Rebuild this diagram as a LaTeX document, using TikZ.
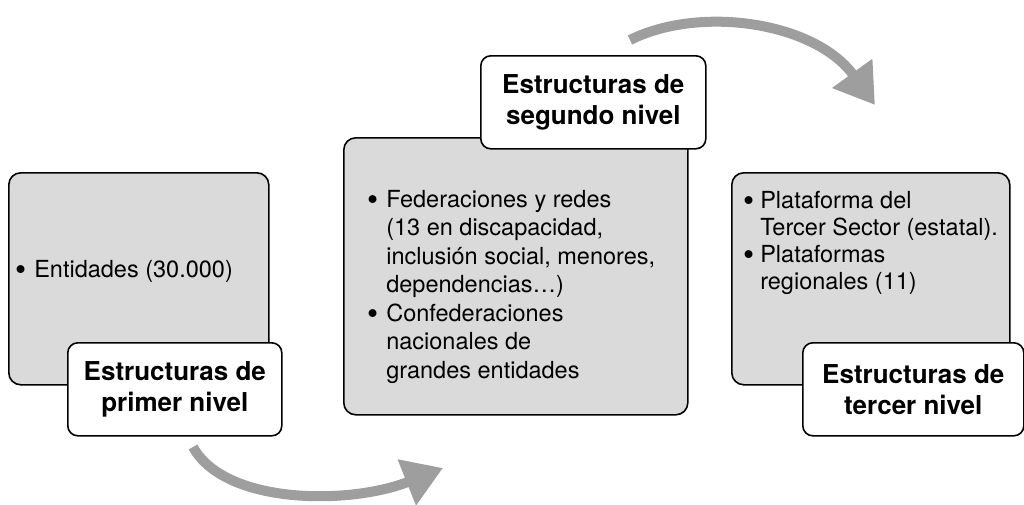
\documentclass[tikz,border=0pt]{standalone}
\usepackage{fontspec}
\setmainfont{TeX Gyre Heros}
\usetikzlibrary{arrows.meta}
\definecolor{boxgray}{RGB}{218,218,218}
\definecolor{arrowgray}{RGB}{158,158,158}
\newcommand{\lbul}{\raisebox{-0.14em}{\scalebox{1.35}{\textbullet}}}

\begin{document}
\begin{tikzpicture}[x=1pt,y=-1pt,
  graybox/.style={draw,line width=1.6pt,fill=boxgray,rounded corners=12pt,anchor=north west,inner sep=0pt},
  levellabel/.style={draw,line width=1.6pt,fill=white,rounded corners=10pt,anchor=north west,inner sep=0pt,
    align=center,font=\fontsize{26}{31}\selectfont\bfseries},
  listtext/.style={anchor=base west,inner sep=0pt,font=\fontsize{23.5}{28.5}\selectfont},
  bigarrow/.style={arrowgray,line width=10pt,-{Triangle[length=39pt,width=47pt]}}]
\useasboundingbox (0,0) rectangle (1024,504);
%first level
\node [graybox,minimum width=260pt,minimum height=212pt] (box_one) at (8,172) {};
\node [listtext] (list_one) at (15,277) {\lbul\hspace{8pt}Entidades (30.000)};
\node [levellabel,minimum width=214pt,minimum height=93pt] (label_one) at (67,342) {Estructuras de\\primer nivel};
%second level
\node [graybox,minimum width=344pt,minimum height=277pt] (box_two) at (343,137) {};
\node [listtext] (list_two) at (367,207) {\begin{tabular}[t]{@{}l@{\hspace{8pt}}l@{}}
  \lbul & Federaciones y redes\\
   & (13 en discapacidad,\\
   & inclusión social, menores,\\
   & dependencias…)\\
  \lbul & Confederaciones\\
   & nacionales de\\
   & grandes entidades
  \end{tabular}};
\node [levellabel,minimum width=225pt,minimum height=93pt] (label_two) at (480,55) {Estructuras de\\segundo nivel};
%third level
\node [graybox,minimum width=278pt,minimum height=212pt] (box_three) at (731,172) {};
\node [listtext,font=\fontsize{23.5}{27}\selectfont] (list_three) at (743,208) {\begin{tabular}[t]{@{}l@{\hspace{6pt}}l@{}}
  \lbul & Plataforma del\\
   & Tercer Sector (estatal).\\
  \lbul & Plataformas\\
   & regionales (11)
  \end{tabular}};
\node [levellabel,minimum width=221pt,minimum height=93pt] (label_three) at (802,342) {Estructuras de\\tercer nivel};
%arrows
\coordinate (arrow_a_start) at (193,447);
\coordinate (arrow_a_end) at (443,468);
\coordinate (arrow_b_start) at (630,40);
\coordinate (arrow_b_end) at (875,105);
\draw [bigarrow] (arrow_a_start) .. controls (225,505) and (350,505) .. (arrow_a_end);
\draw [bigarrow] (arrow_b_start) .. controls (700,5) and (815,22) .. (arrow_b_end);
\end{tikzpicture}
\end{document}
